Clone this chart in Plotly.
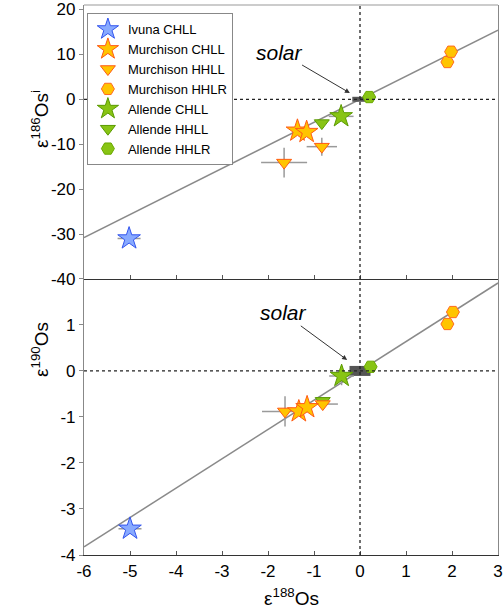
import plotly.graph_objects as go
from plotly.subplots import make_subplots

# ---------------- data ----------------
series_names = ["Ivuna CHLL", "Murchison CHLL", "Murchison HHLL", "Murchison HHLR",
                "Allende CHLL", "Allende HHLL", "Allende HHLR"]

# top panel: eps188Os (x) vs eps186Os_i (y)
ivuna_x_top = [-5.02]; ivuna_y_top = [-31.0]; ivuna_ex_top = [0.25]; ivuna_ey_top = [0.6]
mchll_x_top = [-1.36, -1.16]; mchll_y_top = [-7.0, -7.3]
mhhll_x_top = [-0.83, -1.65]; mhhll_y_top = [-10.55, -14.1]; mhhll_ex_top = [0.33, 0.5]; mhhll_ey_top = [2.0, 3.3]
mhhlr_x_top = [1.9, 1.98]; mhhlr_y_top = [8.3, 10.6]
achll_x_top = [-0.41]; achll_y_top = [-3.8]; achll_ex_top = [0.27]; achll_ey_top = [0.0]
ahhll_x_top = [-0.83]; ahhll_y_top = [-5.3]
ahhlr_x_top = [0.2]; ahhlr_y_top = [0.5]

# bottom panel: eps188Os (x) vs eps190Os (y)
ivuna_x_bot = [-5.0]; ivuna_y_bot = [-3.43]; ivuna_ex_bot = [0.25]; ivuna_ey_bot = [0.1]
mchll_x_bot = [-1.33, -1.15]; mchll_y_bot = [-0.88, -0.79]
mhhll_x_bot = [-0.81, -1.63]; mhhll_y_bot = [-0.72, -0.88]; mhhll_ex_bot = [0.33, 0.5]; mhhll_ey_bot = [0.05, 0.33]
mhhlr_x_bot = [1.9, 2.02]; mhhlr_y_bot = [1.02, 1.28]
achll_x_bot = [-0.4]; achll_y_bot = [-0.11]; achll_ex_bot = [0.27]; achll_ey_bot = [0.2]
ahhll_x_bot = [-0.81]; ahhll_y_bot = [-0.65]
ahhlr_x_bot = [0.23]; ahhlr_y_bot = [0.09]

solar_x = [0.0]; solar_y = [0.0]

# reference lines through solar (slopes)
line_x = [-6, 3]
slope_top = 5.13
slope_bot = 0.637

x_ticks = [-6, -5, -4, -3, -2, -1, 0, 1, 2, 3]
x_tick_labels = ["-6", "-5", "-4", "-3", "-2", "-1", "0", "1", "2", "3"]
y_ticks_top = [-40, -30, -20, -10, 0, 10, 20]
y_tick_labels_top = ["-40", "-30", "-20", "-10", "0", "10", "20"]
y_ticks_bot = [-4, -3, -2, -1, 0, 1]
y_tick_labels_bot = ["-4", "-3", "-2", "-1", "0", "1"]

# ---------------- styles ----------------
FONT = "Liberation Sans, Arial, sans-serif"
ERRC = "#9a9a9a"
st = {
    "Ivuna CHLL": dict(symbol="star", size=17, color="#88aaff", line=dict(color="#3355ee", width=1)),
    "Murchison CHLL": dict(symbol="star", size=17, color="#ffc400", line=dict(color="#ff5a14", width=1)),
    "Murchison HHLL": dict(symbol="triangle-down", size=13, color="#ffc400", line=dict(color="#ff5a14", width=1)),
    "Murchison HHLR": dict(symbol="hexagon2", size=13, color="#ffc400", line=dict(color="#ff6a20", width=1)),
    "Allende CHLL": dict(symbol="star", size=17, color="#88c414", line=dict(color="#5a9a00", width=1)),
    "Allende HHLL": dict(symbol="triangle-down", size=13, color="#88c414", line=dict(color="#5a9a00", width=1)),
    "Allende HHLR": dict(symbol="hexagon2", size=13, color="#88c414", line=dict(color="#6aa800", width=1)),
}
rank = {n: i + 1 for i, n in enumerate(series_names)}

fig = make_subplots(rows=2, cols=1, shared_xaxes=True, vertical_spacing=0,
                    row_heights=[0.498, 0.502])

# regression lines
fig.add_trace(go.Scatter(x=line_x, y=[slope_top * v for v in line_x], mode="lines",
                         line=dict(color="#8a8a8a", width=1.5), showlegend=False,
                         hoverinfo="skip"), row=1, col=1)
fig.add_trace(go.Scatter(x=line_x, y=[slope_bot * v for v in line_x], mode="lines",
                         line=dict(color="#8a8a8a", width=1.5), showlegend=False,
                         hoverinfo="skip"), row=2, col=1)

# solar marker
fig.add_trace(go.Scatter(x=solar_x, y=solar_y, mode="markers", showlegend=False,
                         marker=dict(symbol="line-ew", size=11,
                                     line=dict(color="#555555", width=5))), row=1, col=1)
fig.add_trace(go.Scatter(x=solar_x, y=solar_y, mode="markers", showlegend=False,
                         marker=dict(symbol="line-ew", size=15,
                                     line=dict(color="#555555", width=10))), row=2, col=1)


def add(name, x, y, row, ex=None, ey=None, legend=False):
    kw = {}
    if ex is not None:
        kw["error_x"] = dict(type="data", array=ex, color=ERRC, thickness=1.5, width=0)
    if ey is not None:
        kw["error_y"] = dict(type="data", array=ey, color=ERRC, thickness=1.5, width=0)
    fig.add_trace(go.Scatter(x=x, y=y, mode="markers", name=name, marker=st[name],
                             showlegend=legend, legendgroup=name, legendrank=rank[name],
                             **kw), row=row, col=1)


# draw order: Allende below Murchison
add("Allende HHLR", ahhlr_x_top, ahhlr_y_top, 1, legend=True)
add("Allende HHLL", ahhll_x_top, ahhll_y_top, 1, legend=True)
add("Allende CHLL", achll_x_top, achll_y_top, 1, achll_ex_top, achll_ey_top, legend=True)
add("Murchison HHLR", mhhlr_x_top, mhhlr_y_top, 1, legend=True)
add("Murchison HHLL", mhhll_x_top, mhhll_y_top, 1, mhhll_ex_top, mhhll_ey_top, legend=True)
add("Murchison CHLL", mchll_x_top, mchll_y_top, 1, legend=True)
add("Ivuna CHLL", ivuna_x_top, ivuna_y_top, 1, ivuna_ex_top, ivuna_ey_top, legend=True)

add("Allende HHLR", ahhlr_x_bot, ahhlr_y_bot, 2)
add("Allende HHLL", ahhll_x_bot, ahhll_y_bot, 2)
add("Allende CHLL", achll_x_bot, achll_y_bot, 2, achll_ex_bot, achll_ey_bot)
add("Murchison HHLR", mhhlr_x_bot, mhhlr_y_bot, 2)
add("Murchison HHLL", mhhll_x_bot, mhhll_y_bot, 2, mhhll_ex_bot, mhhll_ey_bot)
add("Murchison CHLL", mchll_x_bot, mchll_y_bot, 2)
add("Ivuna CHLL", ivuna_x_bot, ivuna_y_bot, 2, ivuna_ex_bot, ivuna_ey_bot)

# dotted zero lines
for r in (1, 2):
    fig.add_vline(x=0, line=dict(color="#222", width=1.3, dash="3px,3px"), row=r, col=1)
    fig.add_hline(y=0, line=dict(color="#222", width=1.3, dash="3px,3px"), row=r, col=1)

# top frame line
fig.add_shape(type="line", xref="paper", yref="paper", x0=0, x1=1, y0=1, y1=1,
              line=dict(color="#999", width=1.2))

axis_common = dict(showgrid=False, zeroline=False, showline=True, automargin=False,
                   tickfont=dict(family=FONT, size=17, color="black"))
fig.update_xaxes(range=[-6, 3], tickvals=x_ticks, ticktext=x_tick_labels,
                 ticks="inside", ticklen=4, ticklabeloverflow="allow",
                 tickcolor="#555", linecolor="#333", linewidth=1.2, **axis_common)
fig.update_xaxes(showticklabels=False, row=1, col=1)
fig.update_yaxes(ticks="outside", ticklen=4, tickcolor="#888", linecolor="#888",
                 linewidth=1.2, mirror=True, ticklabeloverflow="allow", **axis_common)
fig.update_yaxes(range=[-40, 21], tickvals=y_ticks_top, ticktext=y_tick_labels_top,
                 row=1, col=1)
fig.update_yaxes(range=[-4, 2], tickvals=y_ticks_bot, ticktext=y_tick_labels_bot,
                 row=2, col=1)

ann_font = dict(family=FONT, size=19, color="black")
annotations = [
    dict(text="ε<sup>186</sup>Os<sup>i</sup>", xref="paper", yref="paper", x=-0.106, y=0.793,
         showarrow=False, textangle=-90, font=ann_font, xanchor="center", yanchor="middle"),
    dict(text="ε<sup>190</sup>Os", xref="paper", yref="paper", x=-0.106, y=0.373,
         showarrow=False, textangle=-90, font=ann_font, xanchor="center", yanchor="middle"),
    dict(text="ε<sup>188</sup>Os", xref="paper", yref="paper", x=0.5, y=-0.076,
         showarrow=False, font=ann_font, xanchor="center", yanchor="middle"),
    dict(text="<i>solar</i>", xref="x", yref="y", x=-0.22, y=1.4, ax=-70, ay=-41,
         showarrow=True, arrowhead=2, arrowsize=1, arrowwidth=1, arrowcolor="#333",
         font=dict(family=FONT, size=21, color="black")),
    dict(text="<i>solar</i>", xref="x2", yref="y2", x=-0.28, y=0.24, ax=-64, ay=-47,
         showarrow=True, arrowhead=2, arrowsize=1, arrowwidth=1, arrowcolor="#333",
         font=dict(family=FONT, size=21, color="black")),
]
fig.update_layout(
    width=503, height=609,
    margin=dict(l=84, r=5, t=5, b=54, autoexpand=False),
    plot_bgcolor="white", paper_bgcolor="white",
    font=dict(family=FONT, size=13, color="black"),
    annotations=annotations,
    legend=dict(x=0.007, y=0.985, xanchor="left", yanchor="top",
                bgcolor="white", bordercolor="#888", borderwidth=1,
                font=dict(family=FONT, size=13, color="black"),
                tracegroupgap=0, itemwidth=30),
)

# remove the default 8px page margin so the 503x609 figure fills the window
fig.write_html("out.html", config={"displayModeBar": False},
               post_script="document.body.style.margin='0px';")
